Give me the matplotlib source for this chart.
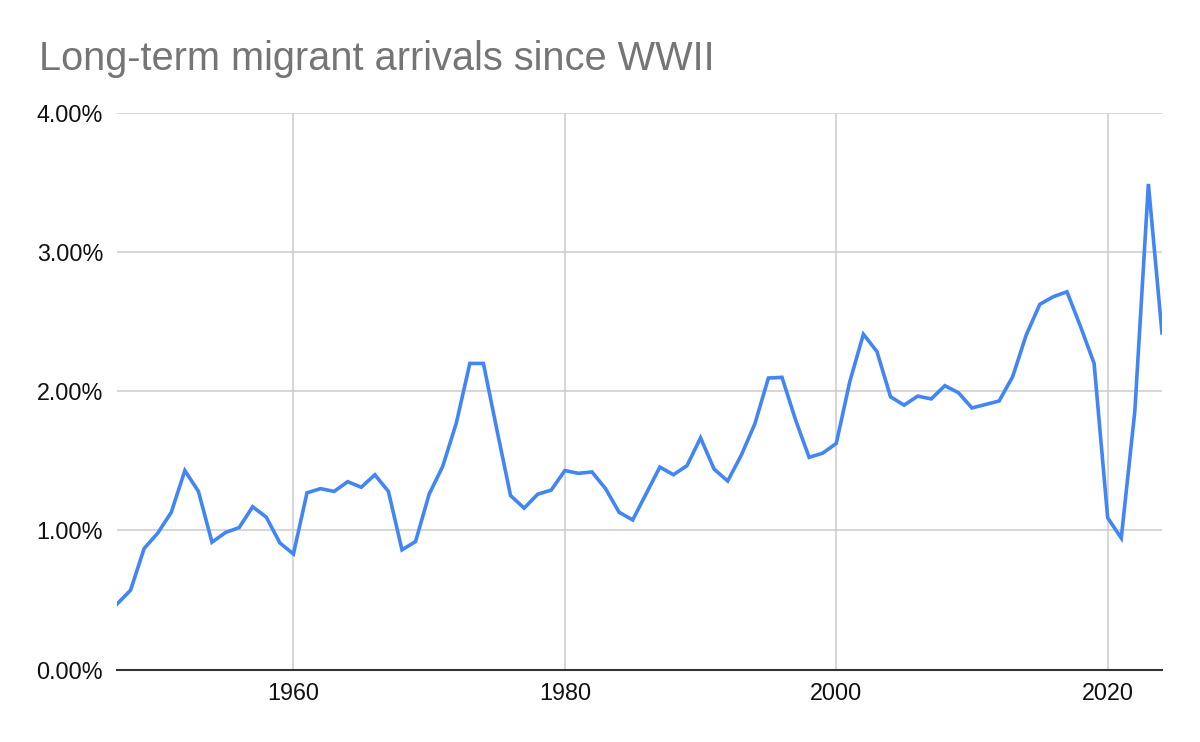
import matplotlib.pyplot as plt
import numpy as np
from matplotlib.ticker import FuncFormatter

plt.rcParams['font.family'] = ['Liberation Sans', 'DejaVu Sans']

# values (percent)
years = list(range(1947, 2025))
arrivals = [
    0.47, 0.57, 0.87, 0.98, 1.13, 1.43, 1.28, 0.915, 0.985, 1.02,   # 1947-1956
    1.17, 1.095, 0.91, 0.83, 1.27, 1.30, 1.28, 1.35, 1.31, 1.40,    # 1957-1966
    1.28, 0.86, 0.92, 1.26, 1.46, 1.77, 2.20, 2.20, 1.72, 1.25,     # 1967-1976
    1.16, 1.26, 1.29, 1.43, 1.41, 1.42, 1.30, 1.13, 1.075, 1.265,   # 1977-1986
    1.455, 1.40, 1.465, 1.665, 1.44, 1.355, 1.54, 1.765, 2.095, 2.10,  # 1987-1996
    1.795, 1.525, 1.555, 1.625, 2.07, 2.41, 2.285, 1.96, 1.90, 1.965,  # 1997-2006
    1.945, 2.04, 1.99, 1.88, 1.905, 1.93, 2.105, 2.405, 2.625, 2.68,   # 2007-2016
    2.715, 2.465, 2.20, 1.09, 0.945, 1.855, 3.49, 2.42,                # 2017-2024
]
yticks = [0, 1, 2, 3, 4]
xticks = [1960, 1980, 2000, 2020]

fig = plt.figure(figsize=(12, 7.42), dpi=100)
ax = fig.add_axes([0.0975, 0.0977, 0.8708, 0.75])

ax.plot(years, arrivals, color='#4285F4', linewidth=2.6, solid_joinstyle='miter', zorder=3)

ax.set_xlim(1947, 2024)
ax.set_ylim(0, 4)
ax.set_xticks(xticks)
ax.set_yticks(yticks)
ax.yaxis.set_major_formatter(FuncFormatter(lambda v, p: f"{v:.2f}%"))

ax.grid(True, color='#cccccc', linewidth=1.1)
ax.set_axisbelow(True)
for s in ['top', 'right', 'left']:
    ax.spines[s].set_visible(False)
ax.spines['bottom'].set_color('#333333')
ax.spines['bottom'].set_linewidth(1.5)
ax.spines['bottom'].set_zorder(4)
ax.tick_params(axis='both', length=0, labelsize=16.8, colors='#111111')
ax.tick_params(axis='y', pad=10)
ax.tick_params(axis='x', pad=9)

fig.text(0.0325, 0.906, "Long-term migrant arrivals since WWII", fontsize=28.6,
         color='#757575', ha='left', va='baseline')

fig.savefig('out.png', dpi=100)
